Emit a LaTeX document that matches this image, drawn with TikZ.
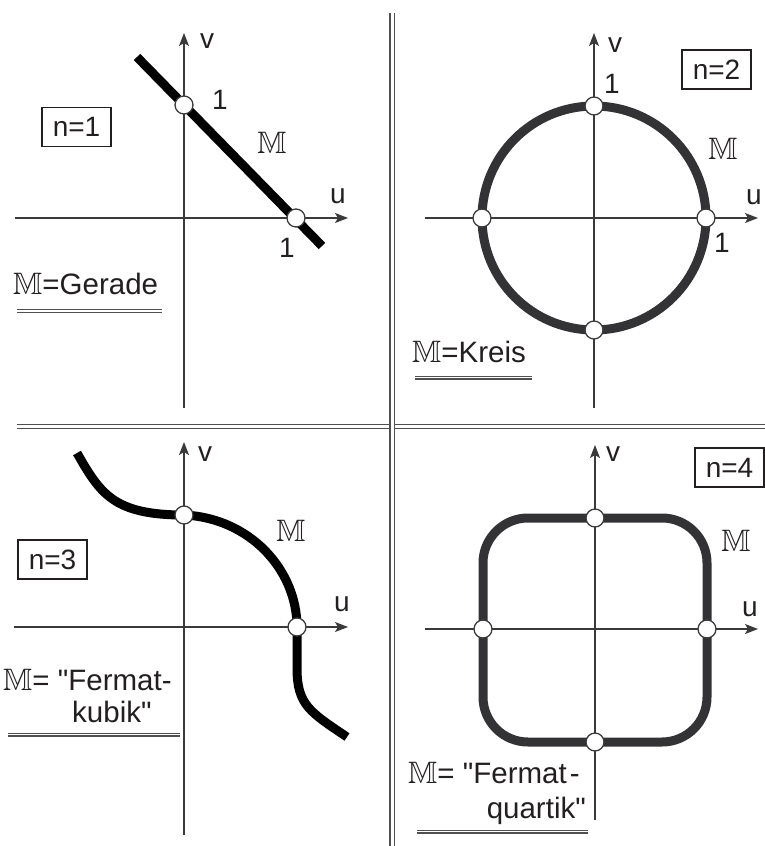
\documentclass[tikz,border=0pt]{standalone}
\usepackage{amssymb}
\usepackage{fontspec}
\setmainfont{Liberation Sans}
\usetikzlibrary{arrows.meta}
\definecolor{ink}{HTML}{231F20}
\definecolor{axisc}{HTML}{3A3A3A}
\definecolor{curvegrey}{HTML}{333336}
\definecolor{sepc}{HTML}{505050}
\newcommand{\MM}{{\fontsize{31}{34}\selectfont$\mathbb{M}$}}
\newcommand{\dq}{\XeTeXglyph\the\XeTeXcharglyph"22\relax}
\begin{document}
\begin{tikzpicture}[x=1pt,y=-1pt,
  axis/.style={draw=axisc,line width=1.3,-{Stealth[length=13,width=10,inset=3]}},
  lbl/.style={font=\fontsize{28}{32}\selectfont,text=ink,inner sep=0},
  tlbl/.style={font=\fontsize{29.5}{34}\selectfont,text=ink,inner sep=0},
  mlbl/.style={font=\fontsize{31}{34}\selectfont,text=ink,inner sep=0},
  nbox/.style={draw=ink,line width=1.2,minimum width=69,minimum height=39,inner sep=0,font=\fontsize{28}{32}\selectfont,text=ink},
  pt/.style={circle,draw=axisc,fill=white,line width=1.3,minimum size=18,inner sep=0},
  curveblack/.style={draw=black,line width=9},
  curvegr/.style={draw=curvegrey,line width=9},
  sep/.style={draw=sepc,line width=1.2,double=white,double distance=3},
  uline/.style={draw=sepc,line width=1.1,double=white,double distance=1.8}]
\useasboundingbox (0,0) rectangle (765,846);

% separators
\coordinate (hsL) at (17,426.5);
\coordinate (hsR) at (765,426.5);
\coordinate (vsT) at (392,13);
\coordinate (vsB) at (392,846);
\draw[sep] (hsL) -- (hsR);
\draw[sep] (vsT) -- (vsB);

% ---------- panel 1 ----------
\coordinate (a1uL) at (15,218);
\coordinate (a1uR) at (348,218);
\coordinate (a1vB) at (184,408);
\coordinate (a1vT) at (184,33);
\draw[curveblack] (137,57) -- (322,246);
\draw[axis] (a1uL) -- (a1uR);
\draw[axis] (a1vB) -- (a1vT);
\node[pt] (p1a) at (184,105) {};
\node[pt] (p1b) at (296,218) {};
\node[lbl] (v1) at (207,41) {v};
\node[lbl] (u1) at (338,196) {u};
\node[lbl] (o1a) at (220,100) {1};
\node[lbl] (o1b) at (287,248) {1};
\node[mlbl] (m1) at (272,143) {$\mathbb{M}$};
\node[nbox] (n1) at (76.5,127) {n=1};
\node[tlbl,anchor=base west] (t1) at (13,294) {\MM=Gerade};
\draw[uline] (17,311) -- (162,311);

% ---------- panel 2 ----------
\coordinate (a2uL) at (425,218);
\coordinate (a2uR) at (758,218);
\coordinate (a2vB) at (594,408);
\coordinate (a2vT) at (594,33);
\draw[curvegr] (594,218) circle[radius=112];
\draw[axis] (a2uL) -- (a2uR);
\draw[axis] (a2vB) -- (a2vT);
\node[pt] (p2a) at (594,106) {};
\node[pt] (p2b) at (706,218) {};
\node[pt] (p2c) at (594,330) {};
\node[pt] (p2d) at (482,218) {};
\node[lbl] (v2) at (615,45) {v};
\node[lbl] (u2) at (754,197) {u};
\node[lbl] (o2a) at (612,84) {1};
\node[lbl] (o2b) at (722,243) {1};
\node[mlbl] (m2) at (723,149) {$\mathbb{M}$};
\node[nbox] (n2) at (716.5,69.5) {n=2};
\node[tlbl,anchor=base west] (t2) at (412,362) {\MM=Kreis};
\draw[uline] (415,377.5) -- (532,377.5);

% ---------- panel 3 ----------
\coordinate (a3uL) at (14,627);
\coordinate (a3uR) at (348,627);
\coordinate (a3vB) at (184,835);
\coordinate (a3vT) at (184,442);
\draw[curveblack] (77,453) .. controls (100,493) and (113,515) .. (184,515)
  .. controls (250,518) and (297,570) .. (297,627) -- (297,668)
  .. controls (297,705) and (310,712) .. (347,737);
\draw[axis] (a3uL) -- (a3uR);
\draw[axis] (a3vB) -- (a3vT);
\node[pt] (p3a) at (184,515) {};
\node[pt] (p3b) at (297,627) {};
\node[lbl] (v3) at (205,454) {v};
\node[lbl] (u3) at (342,604) {u};
\node[mlbl] (m3) at (291,531) {$\mathbb{M}$};
\node[nbox] (n3) at (52.5,559.5) {n=3};
\node[tlbl,anchor=base west] (t3a) at (3,690) {\MM= \dq Fermat-};
\node[tlbl,anchor=base west] (t3b) at (72,722) {kubik\dq};
\draw[uline] (8,734.5) -- (180,734.5);

% ---------- panel 4 ----------
\coordinate (a4uL) at (425,629);
\coordinate (a4uR) at (758,629);
\coordinate (a4vB) at (595,820);
\coordinate (a4vT) at (595,445);
\draw[curvegr,rounded corners=45] (483,518) rectangle (707,742);
\draw[axis] (a4uL) -- (a4uR);
\draw[axis] (a4vB) -- (a4vT);
\node[pt] (p4a) at (595,518) {};
\node[pt] (p4b) at (707,629) {};
\node[pt] (p4c) at (595,742) {};
\node[pt] (p4d) at (483,629) {};
\node[lbl] (v4) at (613,454) {v};
\node[lbl] (u4) at (750,609) {u};
\node[mlbl] (m4) at (736,541) {$\mathbb{M}$};
\node[nbox] (n4) at (729.5,467.5) {n=4};
\node[tlbl,anchor=base west] (t4a) at (408,783) {\MM= \dq Fermat\kern3pt-};
\node[tlbl,anchor=base east] (t4b) at (586,818) {quartik\dq};
\draw[uline] (417,831.5) -- (588,831.5);
\end{tikzpicture}
\end{document}
